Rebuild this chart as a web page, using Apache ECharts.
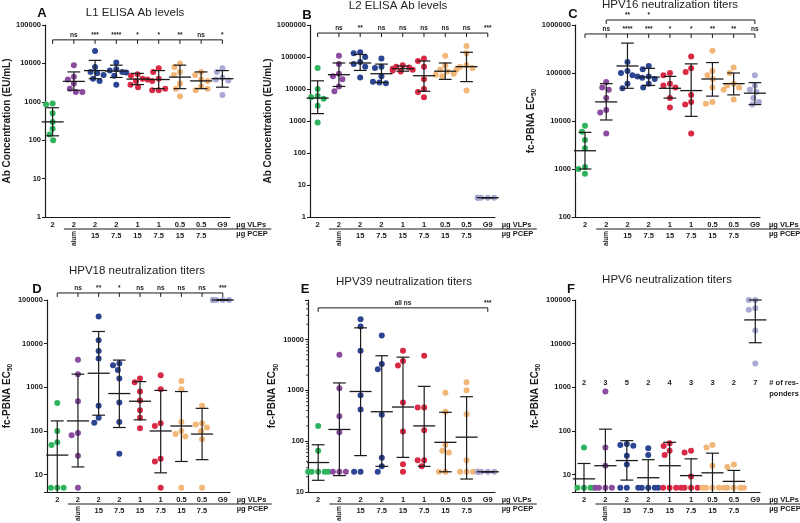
<!DOCTYPE html>
<html>
<head>
<meta charset="utf-8">
<script src="https://cdn.jsdelivr.net/npm/echarts@6/dist/echarts.min.js"></script>
<style>
html, body { margin: 0; padding: 0; background: #fff; }
#chart { width: 800px; height: 523px; }
</style>
</head>
<body>
<div id="chart"></div>
<script>
// shared group labels / colours
const vlpLabels = ['2', '2', '2', '2', '1', '1', '0.5', '0.5', 'G9']
const pcepLabels = ['', 'alum', '15', '7.5', '15', '7.5', '15', '7.5', '']
const groupColors = ['#2fb35c', '#8b4b9f', '#2c4593', '#2c4593', '#d92a45', '#d92a45', '#f2b676', '#f2b676', '#a9a9d6']

// A - L1 ELISA Ab levels
const aPoints = [
  [900, 850, 500, 300, 200, 140, 100],
  [9000, 4500, 3800, 3000, 2200, 1800, 1800],
  [21000, 8000, 6000, 5500, 5000, 4000, 3500],
  [10500, 7000, 6500, 6000, 5800, 4800, 2800],
  [5200, 4800, 4000, 3800, 3500, 2800, 2400],
  [7500, 6000, 4000, 3500, 2000, 2000, 2200],
  [10000, 8000, 6000, 5000, 3000, 2200, 1400],
  [6000, 5000, 3800, 3500, 2500, 2000, 2200],
  [7500, 6000, 4200, 3800, 3600, 3400, 1500]
]
const aMean = [300, 3400, 6500, 6300, 3900, 3800, 4400, 3500, 4000]
const aSdLow = [130, 2000, 4000, 4300, 2800, 2200, 2200, 2200, 2400]
const aSdHigh = [700, 6000, 12000, 9000, 5500, 6500, 9000, 6000, 6500]
const aSig = ['ns', '***', '****', '*', '*', '**', 'ns', '*']

// B - L2 ELISA Ab levels
const bPoints = [
  [45000, 10000, 6000, 5500, 5000, 3000, 900],
  [110000, 60000, 30000, 25000, 20000, 12000, 8500],
  [140000, 130000, 100000, 70000, 60000, 50000, 23000],
  [90000, 50000, 45000, 25000, 16000, 15000, 17000],
  [55000, 50000, 47000, 43000, 40000, 38000, 35000],
  [90000, 75000, 50000, 20000, 10000, 8000, 5500],
  [110000, 55000, 40000, 35000, 30000, 28000, 25000],
  [220000, 130000, 55000, 50000, 45000, 40000, 9000],
  [4, 4, 4, 4, 4, 4, 4]
]
const bMean = [5200, 28000, 65000, 30000, 43000, 26000, 36000, 50000, 4]
const bSdLow = [1700, 12000, 38000, 16000, 36000, 8500, 20000, 17000, 4]
const bSdHigh = [18000, 65000, 120000, 60000, 52000, 75000, 65000, 140000, 4]
const bSig = ['ns', '**', 'ns', 'ns', 'ns', 'ns', 'ns', '***']

// C - HPV16 neutralization titers
const cPoints = [
  [8000, 6000, 4000, 2700, 1100, 1000, 800],
  [65000, 50000, 45000, 30000, 17000, 15000, 5500],
  [170000, 110000, 100000, 90000, 85000, 60000, 48000],
  [140000, 120000, 85000, 80000, 75000, 60000, 50000],
  [100000, 90000, 60000, 55000, 50000, 30000, 19000],
  [220000, 125000, 105000, 35000, 25000, 22000, 5500],
  [290000, 110000, 90000, 75000, 50000, 25000, 23000],
  [130000, 100000, 60000, 55000, 50000, 45000, 28000],
  [90000, 55000, 45000, 40000, 30000, 25000, 22000]
]
const cMean = [2400, 25000, 140000, 82000, 48000, 43000, 75000, 60000, 38000]
const cSdLow = [1000, 10500, 48000, 55000, 30000, 12500, 33000, 35000, 22000]
const cSdHigh = [5800, 60000, 420000, 125000, 85000, 155000, 165000, 100000, 63000]
const cSig = ['ns', '****', '***', '*', '*', '**', '**', 'ns']
const cSigAlum = ['**', '*']

// D - HPV18 neutralization titers
const dPoints = [
  [440, 100, 55, 48, 5, 5, 5],
  [4300, 2000, 480, 90, 80, 27, 5],
  [42000, 12000, 6800, 4600, 380, 200, 155],
  [3500, 3200, 2500, 1600, 450, 160, 30],
  [1600, 1300, 800, 500, 300, 200, 115],
  [1900, 900, 150, 130, 23, 20, 5],
  [1400, 900, 160, 100, 85, 75, 5],
  [380, 150, 140, 120, 100, 65, 5],
  [100000, 100000, 100000, 100000, 100000, 100000, 100000]
]
const dMean = [28, 170, 2100, 720, 480, 100, 130, 85, 100000]
const dSdLow = [4, 15, 230, 120, 180, 11, 20, 22, 100000]
const dSdHigh = [170, 2000, 19000, 4200, 1350, 850, 800, 330, 100000]
const dSig = ['ns', '**', '*', 'ns', 'ns', 'ns', 'ns', '***']

// E - HPV39 neutralization titers
const ePoints = [
  [200, 65, 25, 25, 25, 25, 25],
  [5000, 1100, 310, 150, 25, 25, 25],
  [25000, 18000, 6000, 800, 420, 25, 25],
  [12000, 3300, 2600, 330, 47, 32, 25],
  [6000, 3800, 3100, 580, 155, 35, 25],
  [4800, 460, 460, 165, 42, 42, 32],
  [900, 380, 85, 65, 60, 25, 25],
  [1450, 1000, 340, 42, 25, 25, 25],
  [25, 25, 25, 25, 25, 25, 25]
]
const eMean = [38, 170, 950, 380, 470, 200, 95, 120, 25]
const eSdLow = [17, 21, 52, 32, 48, 32, 25, 18, 25]
const eSdHigh = [85, 1400, 17000, 4800, 4500, 1200, 370, 750, 25]

// F - HPV6 neutralization titers
const fPoints = [
  [42, 5, 5, 5, 5, 5, 5],
  [800, 42, 16, 5, 5, 5, 5],
  [50, 48, 46, 27, 17, 5, 5],
  [40, 28, 5, 5, 5, 5, 5],
  [52, 45, 35, 28, 5, 5, 5],
  [35, 32, 9, 5, 5, 5, 5],
  [48, 42, 16, 5, 5, 5, 5],
  [17, 15, 5, 5, 5, 5, 5],
  [100000, 100000, 100000, 65000, 60000, 20000, 3500]
]
const fMean = [8, 16, 21, 8.5, 16, 9.5, 11, 7, 35000]
const fSdLow = [4, 4, 7.5, 4, 4, 4, 4, 4, 10500]
const fSdHigh = [18, 110, 60, 22, 55, 23, 31, 12.5, 100000]
const fResponders = [2, 3, 5, 2, 4, 3, 3, 2, 7]

const FONT = '"Liberation Sans", Arial, sans-serif'
const INK = '#1a1a1a'
const elisaName = 'Ab Concentration (EU/mL)'
const pbnaName = '{a|fc-PBNA EC}{b|50}'
const allGroups = [0, 1, 2, 3, 4, 5, 6, 7, 8]

const sigLabels = (arr, start) => arr.map((t, i) => ({ g: i + start, text: t }))

const panels = [
  { title: 'L1 ELISA Ab levels', titleX: 135, titleY: 13, letter: 'A', letterX: 42, letterY: 13,
    left: 45, top: 25, width: 185, xMin: -0.36, xMax: 8.36, yMin: 1, yMax: 100000,
    yName: elisaName, nameGap: 36, points: aPoints, mean: aMean, sdLow: aSdLow, sdHigh: aSdHigh,
    brackets: [{ from: 0, to: 8, value: 41000, ticks: allGroups, labels: sigLabels(aSig, 1) }] },
  { title: 'L2 ELISA Ab levels', titleX: 398, titleY: 6, letter: 'B', letterX: 307, letterY: 15,
    left: 310, top: 25, width: 185, xMin: -0.36, xMax: 8.34, yMin: 1, yMax: 1000000,
    yName: elisaName, nameGap: 40, points: bPoints, mean: bMean, sdLow: bSdLow, sdHigh: bSdHigh,
    brackets: [{ from: 0, to: 8, value: 560000, ticks: allGroups, labels: sigLabels(bSig, 1) }] },
  { title: 'HPV16 neutralization titers', titleX: 670, titleY: 5, letter: 'C', letterX: 573, letterY: 14,
    left: 575, top: 25, width: 185, xMin: -0.47, xMax: 8.24, yMin: 100, yMax: 1000000,
    yName: pbnaName, nameGap: 34, points: cPoints, mean: cMean, sdLow: cSdLow, sdHigh: cSdHigh,
    brackets: [
      { from: 0, to: 8, value: 650000, ticks: allGroups, labels: sigLabels(cSig, 1) },
      { from: 1, to: 8, value: 1270000, ticks: [1, 8], labels: sigLabels(cSigAlum, 2) }
    ] },
  { title: 'HPV18 neutralization titers', titleX: 137, titleY: 271, letter: 'D', letterX: 37, letterY: 289,
    left: 42, top: 300, width: 188, xMin: -0.5, xMax: 8.35, yMin: 4, yMax: 100000,
    yName: pbnaName, nameGap: 20, points: dPoints, mean: dMean, sdLow: dSdLow, sdHigh: dSdHigh,
    brackets: [{ from: 0, to: 8, value: 145000, ticks: allGroups, labels: sigLabels(dSig, 1) }] },
  { title: 'HPV39 neutralization titers', titleX: 404, titleY: 282, letter: 'E', letterX: 305, letterY: 289,
    left: 308, top: 300, width: 187, xMin: -0.48, xMax: 8.34, yMin: 10, yMax: 60000, minor: true,
    yName: pbnaName, nameGap: 29, points: ePoints, mean: eMean, sdLow: eSdLow, sdHigh: eSdHigh,
    brackets: [{ from: 0, to: 8, value: 42000, ticks: [0, 8], labels: [{ g: 4, text: 'all ns' }, { g: 8, text: '***' }] }] },
  { title: 'HPV6 neutralization titers', titleX: 667, titleY: 280, letter: 'F', letterX: 571, letterY: 289,
    left: 575, top: 300, width: 185, xMin: -0.42, xMax: 8.22, yMin: 4, yMax: 100000,
    yName: pbnaName, nameGap: 30, points: fPoints, mean: fMean, sdLow: fSdLow, sdHigh: fSdHigh,
    brackets: [], responders: fResponders, respValue: 1250 }
]

const GRID_H = 192
panels.forEach(p => {
  p.unitPx = p.width / (p.xMax - p.xMin)
  p.decPx = GRID_H / (Math.log10(p.yMax) - Math.log10(p.yMin))
})

// simple beeswarm so points with close values sit side by side
function swarm (vals, g, p) {
  const placed = []
  const d = 6.5
  return vals.map(v => {
    const y = Math.log10(v) * p.decPx
    let best = 0
    for (let k = 0; k < 60; k++) {
      const cand = k === 0 ? 0 : (k % 2 ? -1 : 1) * Math.ceil(k / 2) * 0.5
      if (placed.every(q => Math.hypot(q.x - cand, q.y - y) >= d)) { best = cand; break }
      best = cand
    }
    best = Math.max(-10, Math.min(10, best))
    placed.push({ x: best, y })
    return [g + best / p.unitPx, v, g]
  })
}

const line = (x1, y1, x2, y2, w) => ({
  type: 'line',
  shape: { x1, y1, x2, y2 },
  style: { stroke: INK, lineWidth: w || 1.2 }
})
const text = (str, x, y, opt) => ({
  type: 'text',
  x, y,
  rotation: (opt && opt.rotation) || 0,
  style: {
    text: str,
    fill: INK,
    fontFamily: FONT,
    fontWeight: 'bold',
    fontSize: (opt && opt.size) || 7.5,
    align: (opt && opt.align) || 'center',
    verticalAlign: (opt && opt.va) || 'middle'
  }
})

function barRenderer (p) {
  return function (params, api) {
    const g = api.value(0)
    const lo = api.value(2)
    const c = api.coord([g, api.value(1)])
    const hi = api.coord([g, api.value(3)])
    const lp = api.coord([g, Math.max(lo, p.yMin)])
    const u = p.unitPx
    const children = [
      line(c[0] - 0.52 * u, c[1], c[0] + 0.52 * u, c[1], 1.3),
      line(c[0], hi[1], c[0], lp[1], 1.2),
      line(c[0] - 0.3 * u, hi[1], c[0] + 0.3 * u, hi[1], 1.2)
    ]
    if (lo > p.yMin) children.push(line(c[0] - 0.3 * u, lp[1], c[0] + 0.3 * u, lp[1], 1.2))
    return { type: 'group', children }
  }
}

function annotRenderer (p) {
  return function (params, api) {
    const children = []
    const at = (g, v) => api.coord([g, v])
    // significance brackets
    p.brackets.forEach(b => {
      const a = at(b.from, b.value)
      const e = at(b.to, b.value)
      children.push(line(a[0], a[1], e[0], e[1], 1))
      b.ticks.forEach(g => {
        const t = at(g, b.value)
        children.push(line(t[0], t[1], t[0], t[1] + 4, 1))
      })
      b.labels.forEach(l => {
        const t = at(l.g, b.value)
        children.push(text(l.text, t[0], t[1] - 1, { size: 6.5, va: 'bottom' }))
      })
    })
    // x-axis group labels
    const yb = at(0, p.yMin)[1]
    allGroups.forEach(g => {
      const x = at(g, p.yMin)[0]
      children.push(text(vlpLabels[g], x, yb + 7.5, { size: 7.5 }))
      if (pcepLabels[g] === 'alum') {
        children.push(text('alum', x, yb + 21.5, { size: 6.5, rotation: Math.PI / 2 }))
      } else if (pcepLabels[g]) {
        children.push(text(pcepLabels[g], x, yb + 18.5, { size: 7.5 }))
      }
    })
    const x1 = at(1, p.yMin)[0]
    const x8 = at(8, p.yMin)[0]
    children.push(line(x1 - 10, yb + 12, x8 + 49, yb + 12, 1))
    children.push(text('µg VLPs', x8 + 14, yb + 7.5, { size: 7.5, align: 'left' }))
    children.push(text('µg PCEP', x8 + 14, yb + 17, { size: 7.5, align: 'left' }))
    // responders row
    if (p.responders) {
      p.responders.forEach((n, g) => {
        const t = at(g, p.respValue)
        children.push(text(String(n), t[0], t[1], { size: 7.5 }))
      })
      const t = at(8, p.respValue)
      children.push(text('# of res-', t[0] + 14, t[1], { size: 7.5, align: 'left' }))
      children.push(text('ponders', t[0] + 14, t[1] + 10.5, { size: 7.5, align: 'left' }))
    }
    return { type: 'group', children }
  }
}

const isDecade = v => Math.abs(Math.log10(v) - Math.round(Math.log10(v))) < 1e-6

const grids = []
const xAxes = []
const yAxes = []
const series = []
const graphics = []

panels.forEach((p, i) => {
  grids.push({ left: p.left, top: p.top, width: p.width, height: GRID_H })
  xAxes.push({
    type: 'value', gridIndex: i, min: p.xMin, max: p.xMax,
    axisLine: { show: true, onZero: false, lineStyle: { color: INK, width: 1.2 } },
    axisTick: { show: false }, axisLabel: { show: false }, splitLine: { show: false }
  })
  yAxes.push({
    type: 'log', logBase: 10, gridIndex: i, min: p.yMin, max: p.yMax,
    name: p.yName, nameLocation: 'middle', nameGap: p.nameGap, nameRotate: 90,
    nameTextStyle: {
      fontFamily: FONT, fontWeight: 'bold', fontSize: 10, color: INK, verticalAlign: 'middle',
      rich: {
        a: { fontFamily: FONT, fontWeight: 'bold', fontSize: 10, color: INK, lineHeight: 14 },
        b: { fontFamily: FONT, fontWeight: 'bold', fontSize: 6.5, color: INK, lineHeight: 14, padding: [6, 0, 0, 0] }
      }
    },
    axisLine: { show: true, onZero: false, lineStyle: { color: INK, width: 1.2 } },
    axisTick: { show: true, length: 3, lineStyle: { color: INK, width: 1 } },
    axisLabel: {
      fontFamily: FONT, fontWeight: 'bold', fontSize: 7.5, color: INK, margin: 4,
      formatter: v => (isDecade(v) ? String(Math.round(v)) : '')
    },
    splitLine: { show: false }
  })

  const pts = []
  p.points.forEach((vals, g) => pts.push(...swarm(vals, g, p)))
  series.push({
    type: 'scatter', xAxisIndex: i, yAxisIndex: i, symbolSize: 6, data: pts,
    itemStyle: { color: params => groupColors[params.data[2]], opacity: 1 },
    z: 2
  })
  series.push({
    type: 'custom', xAxisIndex: i, yAxisIndex: i, clip: false, z: 3,
    data: allGroups.map(g => [g, p.mean[g], p.sdLow[g], p.sdHigh[g]]),
    renderItem: barRenderer(p)
  })
  series.push({
    type: 'custom', xAxisIndex: i, yAxisIndex: i, clip: false, z: 3,
    data: [[0, p.yMin]],
    renderItem: annotRenderer(p)
  })
  if (p.minor) {
    const minors = []
    for (let dec = p.yMin; dec < p.yMax; dec *= 10) {
      for (let m = 2; m <= 9; m++) if (m * dec < p.yMax) minors.push([p.xMin, m * dec])
    }
    series.push({
      type: 'custom', xAxisIndex: i, yAxisIndex: i, clip: false, z: 3,
      data: minors,
      renderItem: (params, api) => {
        const c = api.coord([api.value(0), api.value(1)])
        return line(c[0] - 2, c[1], c[0], c[1], 0.8)
      }
    })
  }

  graphics.push({
    type: 'text', x: p.titleX, y: p.titleY,
    style: { text: p.title, fill: '#222', fontFamily: FONT, fontSize: 11.5, align: 'center', verticalAlign: 'middle' }
  })
  graphics.push({
    type: 'text', x: p.letterX, y: p.letterY,
    style: { text: p.letter, fill: '#111', fontFamily: FONT, fontWeight: 'bold', fontSize: 13, align: 'center', verticalAlign: 'middle' }
  })
})

const chart = echarts.init(document.getElementById('chart'))
chart.setOption({
  backgroundColor: '#fff',
  animation: false,
  grid: grids,
  xAxis: xAxes,
  yAxis: yAxes,
  series,
  graphic: graphics
})
</script>
</body>
</html>
